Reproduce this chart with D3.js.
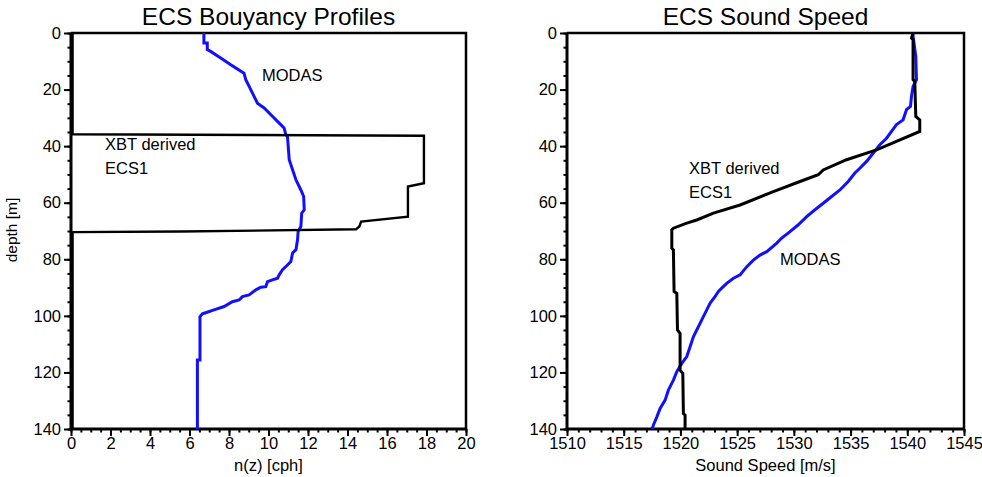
<!DOCTYPE html>
<html>
<head>
<meta charset="utf-8">
<script src="https://cdn.jsdelivr.net/npm/d3@7"></script>
<style>
  body { margin: 0; background: #fff; }
  svg { display: block; font-family: "Liberation Sans", Arial, Helvetica, sans-serif; }
</style>
</head>
<body>
<svg id="chart" width="982" height="477"></svg>
<script>
// buoyancy frequency, MODAS profile: n(z) [cph] against depth [m]
var modasN      = [6.73, 6.73, 6.9, 6.9, 7.07, 7.58, 8.09, 8.76, 8.85, 9.02, 9.27, 9.44, 9.78, 10.12, 10.62, 10.79, 10.88,
                   10.96, 11.05, 11.22, 11.39, 11.64, 11.78, 11.81, 11.68, 11.64, 11.5, 11.47, 11.39, 11.22, 11.13, 10.96,
                   10.71, 10.54, 10.46, 10.2, 9.95, 9.86, 9.61, 9.36, 9.02, 8.68, 8.51, 8.17, 7.75, 7.24, 6.82, 6.65, 6.53,
                   6.53, 6.4, 6.4];
var modasNDepth = [0, 3.5, 3.5, 5.9, 6.5, 8.8, 11.2, 14.2, 16.5, 18.9, 22.4, 24.8, 26.5, 28.9, 32.4, 33.6, 36.0,
                   36.6, 44.8, 48.4, 51.9, 55.5, 57.8, 62.5, 63.7, 68.4, 70.2, 73.1, 76.6, 77.8, 80.8, 82.0,
                   83.7, 85.5, 86.7, 87.3, 87.9, 89.7, 89.9, 90.8, 92.6, 93.2, 94.4, 95.0, 96.7, 97.9, 98.9, 99.3, 100.3,
                   115.6, 115.6, 140];

// buoyancy frequency, XBT derived ECS1
var xbtN      = [0.08, 0.08, 17.87, 17.87, 17.06, 17.06, 14.69, 14.6, 14.43, 5.55, 0.08, 0.08];
var xbtNDepth = [0, 35.8, 36.3, 53.1, 54.3, 64.9, 66.7, 68.4, 69.4, 70.2, 70.4, 140];

// sound speed, MODAS profile [m/s]
var modasC      = [1540.51, 1540.51, 1540.75, 1540.81, 1540.51, 1540.37, 1540.28, 1539.93, 1539.63, 1539.05, 1538.61,
                   1538.17, 1537.58, 1536.99, 1536.41, 1535.82, 1535.38, 1534.79, 1534.06, 1533.33, 1532.59, 1531.86,
                   1531.13, 1530.39, 1529.66, 1528.93, 1528.49, 1527.61, 1527.02, 1526.43, 1525.85, 1525.26, 1524.67,
                   1524.08, 1523.64, 1523.35, 1523.05, 1522.62, 1522.32, 1521.88, 1521.44, 1521.14, 1520.85, 1520.56,
                   1520.12, 1519.68, 1519.38, 1518.94, 1518.65, 1518.21, 1517.92, 1517.62, 1517.5];
var modasCDepth = [0, 1.2, 8.3, 16.5, 18.9, 22.4, 26.0, 27.1, 30.7, 32.4, 34.8,
                   37.2, 39.5, 42.5, 45.4, 47.8, 49.5, 52.5, 55.5, 57.8, 60.2, 62.5,
                   64.9, 67.8, 70.2, 72.5, 74.3, 77.3, 78.5, 80.3, 82.6, 85.5, 86.7,
                   88.5, 90.2, 91.4, 93.2, 95.5, 97.9, 101.4, 105.0, 107.4, 110.9, 114.4,
                   116.8, 119.7, 122.7, 126.2, 129.8, 132.7, 135.7, 138.6, 140];

// sound speed, XBT derived ECS1
var xbtC      = [1540.51, 1540.37, 1540.51, 1540.51, 1540.66, 1540.75, 1541.1, 1541.1, 1537.29, 1534.65, 1532.59,
                 1532.15, 1530.54, 1528.19, 1525.26, 1522.91, 1521.44, 1520.56, 1519.38, 1519.24, 1519.24, 1519.38,
                 1519.44, 1519.68, 1519.74, 1519.97, 1519.97, 1520.21, 1520.26, 1520.41, 1520.41];
var xbtCDepth = [0, 1.8, 2.4, 16.5, 17.1, 29.5, 30.7, 34.8, 41.3, 44.8, 48.4,
                 50.1, 52.5, 56.1, 60.8, 63.7, 66.1, 67.2, 69.0, 69.6, 76.1, 76.7,
                 91.4, 92.0, 105.0, 106.2, 119.2, 120.3, 134.5, 135.1, 140];

// ticks
var depthTicks      = [0, 20, 40, 60, 80, 100, 120, 140];
var depthMinorTicks = d3.range(0, 141, 5);
var nTicks          = [0, 2, 4, 6, 8, 10, 12, 14, 16, 18, 20];
var nMinorTicks     = d3.range(0, 20.01, 0.5);
var cTicks          = [1510, 1515, 1520, 1525, 1530, 1535, 1540, 1545];
var cMinorTicks     = d3.range(1510, 1546, 1);

var svg = d3.select('#chart');

/**
 * Draws one profile panel: frame, axes, two curves and labels.
 */
function drawPanel(opts) {
  var x = d3.scaleLinear().domain(opts.xDomain).range([opts.left, opts.right]);
  var y = d3.scaleLinear().domain([0, 140]).range([33, 429]);
  var g = svg.append('g');

  // title
  g.append('text')
    .attr('x', (opts.left + opts.right) / 2).attr('y', 25)
    .attr('text-anchor', 'middle').attr('font-size', 24.5)
    .text(opts.title);

  // frame: top and right
  g.append('path')
    .attr('d', 'M' + opts.left + ',33H' + opts.right + 'V429')
    .attr('fill', 'none').attr('stroke', '#000').attr('stroke-width', 2.5);

  // minor ticks first, majors on top
  g.append('g').attr('transform', 'translate(' + opts.left + ',0)')
    .call(d3.axisLeft(y).tickValues(depthMinorTicks).tickSize(3.5).tickFormat(''));
  g.append('g').attr('transform', 'translate(0,429)')
    .call(d3.axisBottom(x).tickValues(opts.xMinor).tickSize(3.5).tickFormat(''));
  g.append('g').attr('transform', 'translate(' + opts.left + ',0)')
    .call(d3.axisLeft(y).tickValues(depthTicks).tickSize(7).tickPadding(3));
  g.append('g').attr('transform', 'translate(0,429)')
    .call(d3.axisBottom(x).tickValues(opts.xTicks).tickSize(7).tickPadding(1).tickFormat(d3.format('d')));

  g.selectAll('.domain').remove();
  g.selectAll('.tick line').attr('stroke-width', 2);
  g.selectAll('.tick text').attr('font-size', 16.5).attr('fill', '#000');
  g.selectAll('g').attr('font-family', null);

  // axis lines drawn plainly so they are thick like the original
  g.append('path')
    .attr('d', 'M' + opts.left + ',33V429H' + opts.right)
    .attr('fill', 'none').attr('stroke', '#000').attr('stroke-width', 3);

  // axis label
  g.append('text')
    .attr('x', (opts.left + opts.right) / 2).attr('y', 471)
    .attr('text-anchor', 'middle').attr('font-size', 16.5)
    .text(opts.xLabel);

  var line = d3.line()
    .x(function(d) { return x(d[0]); })
    .y(function(d) { return y(d[1]); });

  g.append('path')
    .datum(d3.zip(opts.modasX, opts.modasDepth))
    .attr('d', line).attr('fill', 'none')
    .attr('stroke', '#1010ff').attr('stroke-width', 3);

  g.append('path')
    .datum(d3.zip(opts.xbtX, opts.xbtDepth))
    .attr('d', line).attr('fill', 'none')
    .attr('stroke', '#000').attr('stroke-width', opts.xbtWidth);

  opts.notes.forEach(function(n) {
    g.append('text').attr('x', n[0]).attr('y', n[1])
      .attr('font-size', 16.5).text(n[2]);
  });
  return g;
}

drawPanel({
  title: 'ECS Bouyancy Profiles', left: 71, right: 466,
  xDomain: [0, 20], xTicks: nTicks, xMinor: nMinorTicks, xLabel: 'n(z) [cph]',
  modasX: modasN, modasDepth: modasNDepth, xbtX: xbtN, xbtDepth: xbtNDepth, xbtWidth: 2.4,
  notes: [[262, 81, 'MODAS'], [105, 150, 'XBT derived'], [105, 174, 'ECS1']]
});

drawPanel({
  title: 'ECS Sound Speed', left: 567, right: 964,
  xDomain: [1510, 1545], xTicks: cTicks, xMinor: cMinorTicks, xLabel: 'Sound Speed [m/s]',
  modasX: modasC, modasDepth: modasCDepth, xbtX: xbtC, xbtDepth: xbtCDepth, xbtWidth: 3,
  notes: [[689, 174, 'XBT derived'], [689, 198, 'ECS1'], [780, 265, 'MODAS']]
});

// y axis label, left panel only
svg.append('text')
  .attr('transform', 'translate(17,230) rotate(-90)')
  .attr('text-anchor', 'middle').attr('font-size', 15.5)
  .text('depth [m]');
</script>
</body>
</html>
